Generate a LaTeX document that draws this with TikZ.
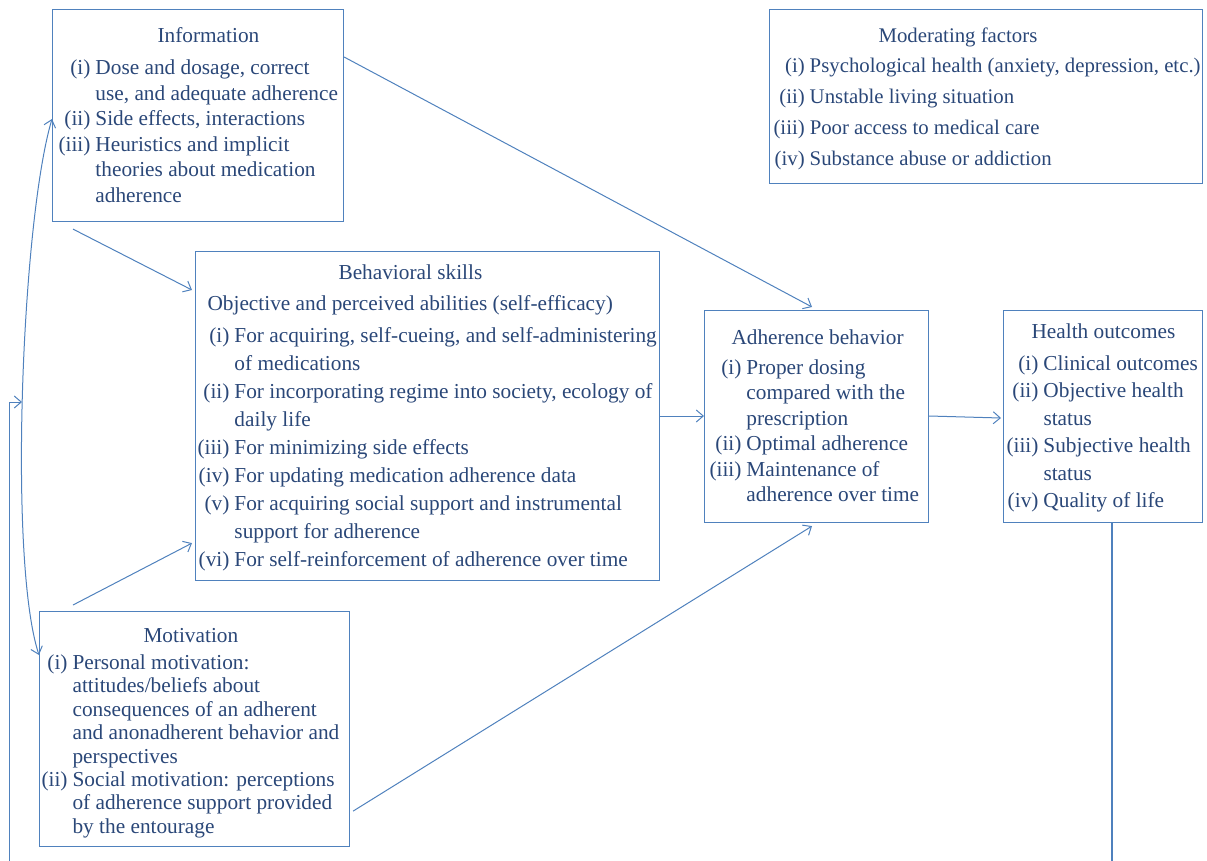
\documentclass[tikz,border=0pt]{standalone}
\usepackage{fontspec}
\setmainfont{Liberation Serif}
\usetikzlibrary{arrows.meta}
\definecolor{boxline}{HTML}{4F81BD}
\definecolor{boxtext}{HTML}{2A4778}

\begin{document}
\begin{tikzpicture}[x=1pt, y=-1pt,
	panel/.style={draw=boxline, line width=1.1pt, inner sep=0pt, anchor=north west, text=boxtext},
	link/.style={draw=boxline, line width=1pt, -{Straight Barb[length=7pt,width=12pt]}},
	twoway/.style={draw=boxline, line width=1pt, {Straight Barb[length=7pt,width=12pt]}-{Straight Barb[length=7pt,width=12pt]}}]
	\useasboundingbox (0,0) rectangle (1207,860);
	%boxes
	\node[panel] (info) at (52,9) {\begin{minipage}[t][212pt][t]{291pt}
		\fontsize{21.3}{25.5}\selectfont
		\rule{0pt}{33pt}\hspace*{105pt}Information\par\vspace{6.5pt}
		\hspace*{6pt}\begin{tabular}[t]{@{}r@{\hspace{5pt}}l@{}}
			(i) & Dose and dosage, correct\\
			& use, and adequate adherence\\
			(ii) & Side effects, interactions\\
			(iii) & Heuristics and implicit\\
			& theories about medication\\
			& adherence
		\end{tabular}
	\end{minipage}};
	\node[panel] (moder) at (769,9) {\begin{minipage}[t][174pt][t]{433pt}
		\fontsize{20.8}{31}\selectfont
		\rule{0pt}{33pt}\hspace*{109pt}Moderating factors\par\vspace{-1pt}
		\hspace*{4pt}\begin{tabular}[t]{@{}r@{\hspace{5pt}}l@{}}
			(i) & Psychological health (anxiety, depression, etc.)\\
			(ii) & Unstable living situation\\
			(iii) & Poor access to medical care\\
			(iv) & Substance abuse or addiction
		\end{tabular}
	\end{minipage}};
	\node[panel] (skills) at (195,251) {\begin{minipage}[t][329pt][t]{464pt}
		\fontsize{21.3}{28}\selectfont
		\rule{0pt}{28pt}\hspace*{143pt}Behavioral skills\par\vspace{3pt}
		\hspace*{12pt}Objective and perceived abilities (self-efficacy)\par\vspace{4pt}
		\hspace*{2pt}\begin{tabular}[t]{@{}r@{\hspace{5pt}}l@{}}
			(i) & For acquiring, self-cueing, and self-administering\\
			& of medications\\
			(ii) & For incorporating regime into society, ecology of\\
			& daily life\\
			(iii) & For minimizing side effects\\
			(iv) & For updating medication adherence data\\
			(v) & For acquiring social support and instrumental\\
			& support for adherence\\
			(vi) & For self-reinforcement of adherence over time
		\end{tabular}
	\end{minipage}};
	\node[panel] (adh) at (704,310) {\begin{minipage}[t][212pt][t]{224pt}
		\fontsize{21.3}{25.4}\selectfont
		\rule{0pt}{34pt}\hspace*{27pt}Adherence behavior\par\vspace{4.6pt}
		\hspace*{5pt}\begin{tabular}[t]{@{}r@{\hspace{5pt}}l@{}}
			(i) & Proper dosing\\
			& compared with the\\
			& prescription\\
			(ii) & Optimal adherence\\
			(iii) & Maintenance of\\
			& adherence over time
		\end{tabular}
	\end{minipage}};
	\node[panel] (health) at (1003,310) {\begin{minipage}[t][212pt][t]{199pt}
		\fontsize{21.3}{27.4}\selectfont
		\rule{0pt}{28pt}\hspace*{28pt}Health outcomes\par\vspace{4.6pt}
		\hspace*{3pt}\begin{tabular}[t]{@{}r@{\hspace{5pt}}l@{}}
			(i) & Clinical outcomes\\
			(ii) & Objective health\\
			& status\\
			(iii) & Subjective health\\
			& status\\
			(iv) & Quality of life
		\end{tabular}
	\end{minipage}};
	\node[panel] (motiv) at (39,611) {\begin{minipage}[t][235pt][t]{310pt}
		\fontsize{21.3}{23.4}\selectfont
		\rule{0pt}{31pt}\hspace*{104pt}Motivation\par\vspace{3.6pt}
		\hspace*{2pt}\begin{tabular}[t]{@{}r@{\hspace{5pt}}l@{}}
			(i) & Personal motivation:\\
			& attitudes/beliefs about\\
			& consequences of an adherent\\
			& and anonadherent behavior and\\
			& perspectives\\
			(ii) & Social motivation: perceptions\\
			& of adherence support provided\\
			& by the entourage
		\end{tabular}
	\end{minipage}};
	%arrows
	\draw[link] ([xshift=21pt,yshift=-7pt]info.south west) -- ([xshift=-3pt,yshift=-39pt]skills.north west);
	\draw[link] ([yshift=-48pt]info.north east) -- ([xshift=108pt,yshift=3pt]adh.north west);
	\draw[link] ([xshift=34pt,yshift=6pt]motiv.north west) -- ([xshift=-3pt,yshift=38pt]skills.south west);
	\draw[link] ([xshift=3pt,yshift=36pt]motiv.south east) -- ([xshift=108pt,yshift=-3pt]adh.south west);
	\draw[link] ([yshift=-165pt]skills.north east) -- ([yshift=-106pt]adh.north west);
	\draw[link] ([yshift=-106pt]adh.north east) -- ([xshift=-2pt,yshift=-108pt]health.north west);
	%feedback
	\coordinate (outfoot) at (1112,864);
	\coordinate (fbfoot) at (9,864);
	\coordinate (loopin) at (22,402);
	\draw[draw=boxline, line width=1.1pt] (health.south -| outfoot) -- (outfoot);
	\draw[link] (fbfoot) |- (loopin);
	\draw[twoway] ([yshift=-110pt]info.north west) .. controls (22,220) and (8,560) .. ([yshift=-44pt]motiv.north west);
\end{tikzpicture}
\end{document}
